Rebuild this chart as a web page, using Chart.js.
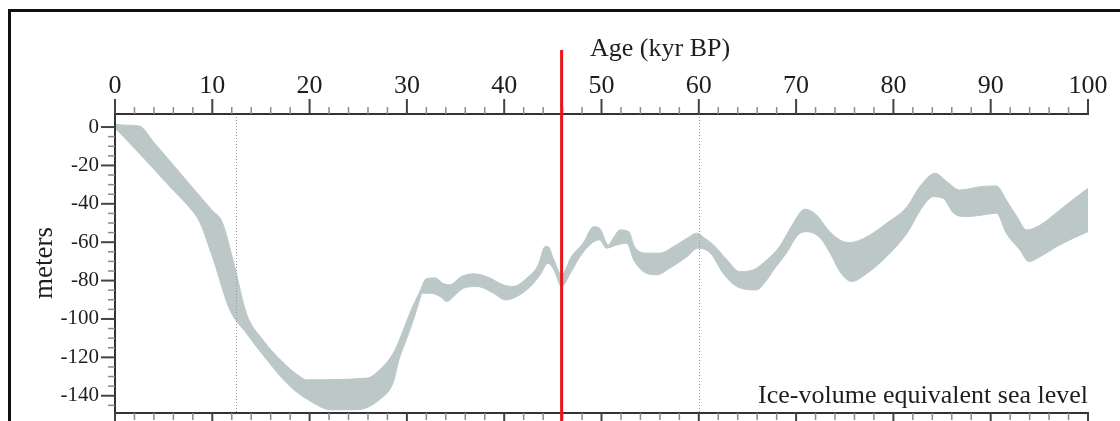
<!DOCTYPE html>
<html>
<head>
<meta charset="utf-8">
<script src="https://cdn.jsdelivr.net/npm/chart.js@4.4.1/dist/chart.umd.min.js"></script>
<style>
html, body { margin: 0; padding: 0; background: #fff; overflow: hidden; }
#wrap { position: relative; width: 1120px; height: 421px; }
#frame { position: absolute; left: 8px; top: 9px; right: 0; bottom: 0;
         border-top: 3px solid #111; border-left: 3px solid #111; pointer-events: none; }
</style>
</head>
<body>
<div id="wrap">
  <canvas id="sea" width="1120" height="421"></canvas>
  <div id="frame"></div>
</div>
<script>
// upper edge of the sea level band (kyr BP, meters)
let ageUpper = [0, 1, 2.5, 4, 6, 8, 10, 11.0, 12.3, 13.5, 15.2, 17.0, 19.0, 19.7, 25.9, 27.2, 28.6, 29.3, 30.3, 31.3,
    32.0, 32.9, 33.7, 34.4, 35.6, 36.8, 38.2, 39.9, 40.9, 42.3, 43.5, 44.2, 44.5, 45.1, 45.9,
    46.9, 48.1, 49.2, 49.8, 50.7, 51.2, 51.9, 52.8, 53.4, 54.6, 56.0, 57.4, 58.8, 59.8, 60.6,
    61.5, 62.9, 64.2, 65.6, 67.0, 68.3, 69.5, 70.9, 72.1, 73.3, 74.5, 75.5, 77.3, 79.3, 81.4,
    82.7, 84.3, 85.5, 86.8, 88.9, 90.6, 91.6, 92.7, 93.7, 95.1, 97.1, 98.5, 100];
let seaUpper = [1.5, 1, 0.5, -8, -19.8, -31.7, -43.5, -49.3, -72.7, -97, -110.9, -121.3, -130, -131.7, -130.8, -126.5, -117.8, -110, -97, -86,
    -79, -78.6, -81.4, -82.2, -77.9, -76.5, -77.9, -82.2, -83.1, -78.8, -71.8, -62.3, -62.3, -69.2, -77,
    -67.5, -60.5, -51.9, -52.7, -61.4, -57.9, -53.6, -54.5, -62.3, -65.7, -65.7, -62.3, -57.9, -55.3, -57.9,
    -61.4, -69.2, -75.3, -74.4, -69.2, -62.3, -51.9, -42.8, -45.8, -53.6, -58.8, -60.2, -57.1, -50.1, -41.5,
    -31.1, -24.1, -28.5, -32.8, -31.1, -30.7, -38, -46.7, -53.6, -51, -43.2, -37.6, -31.9];

// lower edge of the band
let ageLower = [0, 2, 4, 6, 8, 8.7, 10.1, 11.8, 13.5, 15.6, 18.0, 20.4, 22.1, 24.8, 27.2, 28.6, 29.2, 30.0, 30.7,
    31.2, 31.6, 32.4, 33.4, 34.1, 34.8, 35.8, 37.2, 38.9, 40.1, 41.3, 42.7, 43.7, 44.5, 45.1,
    45.9, 46.8, 47.8, 49.0, 49.8, 50.5, 51.6, 52.6, 53.3, 54.3, 55.7, 57.0, 58.8, 59.9, 61.2,
    62.5, 63.9, 65.9, 67.0, 67.7, 69.0, 70.2, 71.1, 72.5, 73.5, 74.5, 75.7, 77.3, 79.3, 81.4,
    82.9, 84.1, 85.1, 86.2, 87.5, 89.2, 90.6, 91.6, 93.0, 93.9, 95.1, 96.8, 98.5, 100];
let seaLower = [-0.5, -11, -22, -33, -44, -49.5, -69, -95.3, -107.4, -121.3, -135.2, -143.8, -147.3, -147.3, -142, -133, -121, -110, -100,
    -92, -86.6, -86.6, -88.3, -90.9, -88.3, -84, -83.1, -86.6, -90.1, -88.3, -83.1, -77, -71, -74.4,
    -83.1, -76.2, -67.5, -60.5, -58.8, -63.1, -61.4, -60.5, -69.2, -75.3, -77, -73.6, -67.5, -63.1, -65.7,
    -76.2, -83.1, -84.9, -79.6, -74.4, -65.7, -56.2, -54.5, -57.9, -65.7, -75.3, -80.5, -76.2, -67.5, -55.3,
    -42.3, -36.3, -37.1, -44.9, -46.7, -45.8, -44.9, -55.3, -64, -70.1, -67.5, -62.3, -57.9, -54.5];

let xTicks = [0, 10, 20, 30, 40, 50, 60, 70, 80, 90, 100];
let yTicks = [0, -20, -40, -60, -80, -100, -120, -140];
let dottedAges = [12.4, 60];
let markerAge = 45.9;

const serif = '"Liberation Serif", "Times New Roman", serif';
const bandCol = 'rgb(188, 200, 200)';

function pts(xs, ys) {
    return xs.map((v, i) => ({x: v, y: ys[i]}));
}

// tick marks, axis frame, reference lines and captions
const decor = {
    id: 'decor',
    afterDatasetsDraw(chart) {
        const ctx = chart.ctx;
        const a = chart.chartArea;
        const x = chart.scales.x, y = chart.scales.y;
        ctx.save();

        ctx.strokeStyle = '#9a9a9a';
        ctx.lineWidth = 1;
        ctx.setLineDash([1, 2]);
        dottedAges.forEach(v => {
            const px = Math.round(x.getPixelForValue(v)) + 0.5;
            ctx.beginPath();
            ctx.moveTo(px, a.top);
            ctx.lineTo(px, a.bottom);
            ctx.stroke();
        });
        ctx.setLineDash([]);

        ctx.strokeStyle = '#333';
        ctx.lineWidth = 2;
        ctx.beginPath();
        ctx.moveTo(a.left, a.top); ctx.lineTo(a.right + 1, a.top);
        ctx.moveTo(a.left, a.bottom); ctx.lineTo(a.right + 1, a.bottom);
        ctx.moveTo(a.left, a.top); ctx.lineTo(a.left, a.bottom);
        ctx.stroke();

        for (let i = 0; i <= 50; i++) {
            const v = i * 2;
            const px = x.getPixelForValue(v);
            const major = v % 10 === 0;
            const len = major ? 15 : 7;
            ctx.strokeStyle = major ? '#444' : '#8a8a8a';
            ctx.lineWidth = major ? 2 : 1.5;
            ctx.beginPath();
            ctx.moveTo(px, a.top); ctx.lineTo(px, a.top - len);
            ctx.moveTo(px, a.bottom); ctx.lineTo(px, a.bottom + len);
            ctx.stroke();
        }
        for (let i = 0; i <= 29; i++) {
            const v = -i * 5;
            const py = y.getPixelForValue(v);
            const major = v % 20 === 0;
            const len = major ? 14 : 7;
            ctx.strokeStyle = major ? '#444' : '#8a8a8a';
            ctx.lineWidth = major ? 2 : 1.5;
            ctx.beginPath();
            ctx.moveTo(a.left, py); ctx.lineTo(a.left - len, py);
            ctx.stroke();
        }

        const mx = x.getPixelForValue(markerAge);
        ctx.strokeStyle = '#e5171d';
        ctx.lineWidth = 3;
        ctx.beginPath();
        ctx.moveTo(mx, 50);
        ctx.lineTo(mx, chart.height);
        ctx.stroke();

        ctx.fillStyle = '#1e1e1e';
        ctx.font = '26px ' + serif;
        ctx.textAlign = 'left';
        ctx.textBaseline = 'alphabetic';
        ctx.fillText('Age (kyr BP)', 590, 56);
        ctx.textAlign = 'right';
        ctx.fillText('Ice-volume equivalent sea level', a.right, 403);

        ctx.translate(52, 263);
        ctx.rotate(-Math.PI / 2);
        ctx.textAlign = 'center';
        ctx.font = '27px ' + serif;
        ctx.fillText('meters', 0, 0);
        ctx.restore();
    }
};

new Chart(document.getElementById('sea').getContext('2d'), {
    type: 'line',
    data: {
        datasets: [
            {
                label: 'upper',
                data: pts(ageUpper, seaUpper),
                borderColor: bandCol,
                borderWidth: 1,
                pointRadius: 0,
                cubicInterpolationMode: 'monotone',
                fill: false
            },
            {
                label: 'lower',
                data: pts(ageLower, seaLower),
                borderColor: bandCol,
                backgroundColor: bandCol,
                borderWidth: 1,
                pointRadius: 0,
                cubicInterpolationMode: 'monotone',
                fill: '-1'
            }
        ]
    },
    options: {
        responsive: false,
        animation: false,
        devicePixelRatio: 1,
        layout: { padding: { top: 0, left: 0, right: 32, bottom: 8 } },
        plugins: {
            legend: { display: false },
            tooltip: { enabled: false }
        },
        scales: {
            x: {
                type: 'linear',
                position: 'top',
                min: 0,
                max: 100,
                grid: { display: false, drawTicks: false },
                border: { display: false },
                ticks: {
                    font: { family: serif, size: 26 },
                    color: '#1e1e1e',
                    padding: 12,
                    maxRotation: 0,
                    autoSkip: false,
                    includeBounds: false
                },
                afterBuildTicks: s => { s.ticks = xTicks.map(v => ({value: v})); },
                afterFit: s => { s.height = 114; s.paddingLeft = 0; s.paddingRight = 0; }
            },
            y: {
                type: 'linear',
                position: 'left',
                min: -149,
                max: 6.8,
                grid: { display: false, drawTicks: false },
                border: { display: false },
                ticks: {
                    font: { family: serif, size: 21 },
                    color: '#1e1e1e',
                    padding: 16,
                    autoSkip: false,
                    includeBounds: false,
                    callback: v => String(v)
                },
                afterBuildTicks: s => { s.ticks = yTicks.map(v => ({value: v})); },
                afterFit: s => { s.width = 115; s.paddingTop = 0; s.paddingBottom = 0; }
            }
        }
    },
    plugins: [decor]
});
</script>
</body>
</html>
